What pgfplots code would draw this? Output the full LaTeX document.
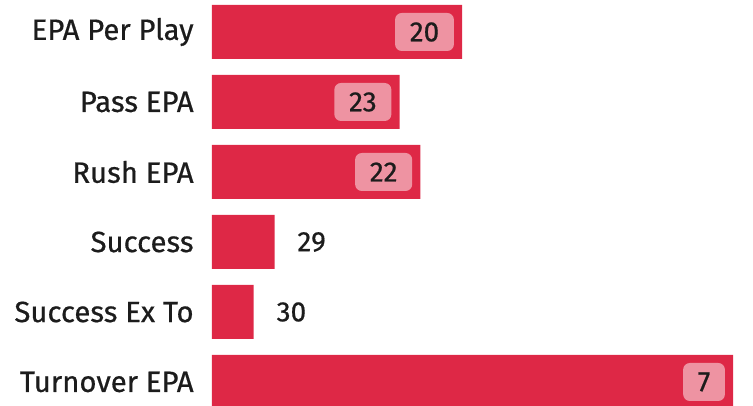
\documentclass[border=0pt]{standalone}
\usepackage{fontspec}
\setmainfont{Fira Sans}[UprightFeatures={FakeBold=0.6}]
\usepackage{pgfplots}
\pgfplotsset{compat=1.18}
\usepackage{pgfplotstable}

\definecolor{barred}{HTML}{DE2846}
\definecolor{boxpink}{HTML}{EE93A2}
\definecolor{ink}{HTML}{1C1C1C}

% row, bar length, rank label
\pgfplotstableread{
row len rank
0 12 20
1 9 23
2 10 22
5 25 7
}\inside
\pgfplotstableread{
row len rank
3 3 29
4 2 30
}\outside

\begin{document}
\begin{tikzpicture}[x=1pt,y=1pt]
\begin{axis}[
    name=ax,
    xbar,
    scale only axis,
    width=405.75pt,
    height=303.75pt,
    xmin=0, xmax=25.95,
    ymin=-0.457, ymax=5.329,
    y dir=reverse,
    axis line style={draw=none},
    tick style={draw=none},
    xtick=\empty,
    ytick={0,1,2,3,4,5},
    yticklabels={EPA Per Play, Pass EPA, Rush EPA, Success, Success Ex To, Turnover EPA},
    yticklabel style={font=\fontsize{22}{26}\selectfont, text=ink, xshift=-6pt},
    bar width=40.5pt,
    bar shift=0pt,
    clip=true,
    point meta=explicit symbolic,
    nodes near coords,
    every node near coord/.append style={font=\fontsize{21}{25}\selectfont, text=ink},
]
\addplot[fill=barred, draw=none,
    every node near coord/.append style={anchor=east, xshift=-6pt, fill=boxpink,
        rounded corners=5pt, inner xsep=11pt, minimum height=28.5pt}]
    table[x=len, y=row, meta=rank] {\inside};
\addplot[fill=barred, draw=none,
    every node near coord/.append style={anchor=west, xshift=6pt,
        inner xsep=11pt, minimum height=28.5pt}]
    table[x=len, y=row, meta=rank] {\outside};
\end{axis}
\pgfresetboundingbox
\useasboundingbox ([xshift=-159pt]ax.south west) rectangle (ax.north east);
\end{tikzpicture}
\end{document}
